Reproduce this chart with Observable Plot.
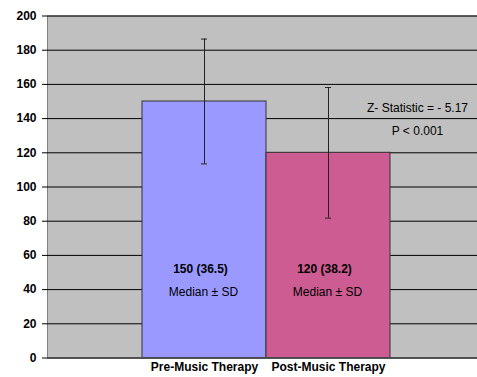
<!DOCTYPE html>
<html>
<head>
<meta charset="utf-8">
<script src="https://cdn.jsdelivr.net/npm/d3@7"></script>
<script src="https://cdn.jsdelivr.net/npm/@observablehq/plot@0.6"></script>
<style>
  html, body { margin: 0; padding: 0; background: #fff; }
  svg { display: block; }
</style>
</head>
<body>
<div id="chart"></div>
<script>
const categories = ["Pre-Music Therapy", "Post-Music Therapy"];
const medians = [150, 120];
const sds = [36.5, 38.2];
const barColors = ["#9999FF", "#CC5C92"];
const yTicks = [0, 20, 40, 60, 80, 100, 120, 140, 160, 180, 200];
const statLines = ["Z- Statistic = - 5.17", "P < 0.001"];
const statNote = "Median ± SD";

const data = categories.map((c, i) => ({
  cat: c, median: medians[i], sd: sds[i], color: barColors[i],
  label: `${medians[i]} (${sds[i]})`
}));

const font = "Liberation Sans, Arial, sans-serif";

const chart = Plot.plot({
  width: 477,
  height: 377,
  marginLeft: 47,
  marginRight: 0,
  marginTop: 15.5,
  marginBottom: 19.5,
  style: { fontFamily: font, fontSize: "12px", background: "#fff", color: "#000" },
  x: { domain: categories, range: [141, 390.5], padding: 0 },
  y: { domain: [0, 200] },
  color: { type: "identity" },
  marks: [
    Plot.frame({ fill: "#C0C0C0", stroke: "#808080" }),
    Plot.gridY(yTicks, { stroke: "#000", strokeOpacity: 1 }),
    Plot.barY(data, { x: "cat", y: "median", fill: "color", stroke: "#333", strokeWidth: 1 }),
    Plot.ruleX(data, { x: "cat", y1: d => d.median - d.sd, y2: d => d.median + d.sd, stroke: "#222", strokeWidth: 1 }),
    Plot.tickY(data, { x: "cat", y: d => d.median + d.sd, stroke: "#222", insetLeft: 59, insetRight: 59 }),
    Plot.tickY(data, { x: "cat", y: d => d.median - d.sd, stroke: "#222", insetLeft: 59, insetRight: 59 }),
    Plot.ruleY([0], { stroke: "#505050", strokeWidth: 1.5 }),
    Plot.text(data, { x: "cat", y: 52, text: "label", fontWeight: "bold", fontSize: 12, dx: -4 }),
    Plot.text(data, { x: "cat", y: 38.3, text: () => statNote, fontSize: 12, dx: -1 }),
    Plot.text(statLines, { x: () => categories[1], y: (d, i) => [146, 132.4][i], text: d => d, fontSize: 12, dx: 89 }),
    Plot.axisY(yTicks, { tickSize: 5, tickPadding: 6, fontWeight: "bold", fontSize: 12, label: null, stroke: "#000" }),
    Plot.axisX({ tickSize: 0, tickPadding: 4, fontWeight: "bold", fontSize: 12, label: null })
  ]
});

document.getElementById("chart").appendChild(chart);
</script>
</body>
</html>
